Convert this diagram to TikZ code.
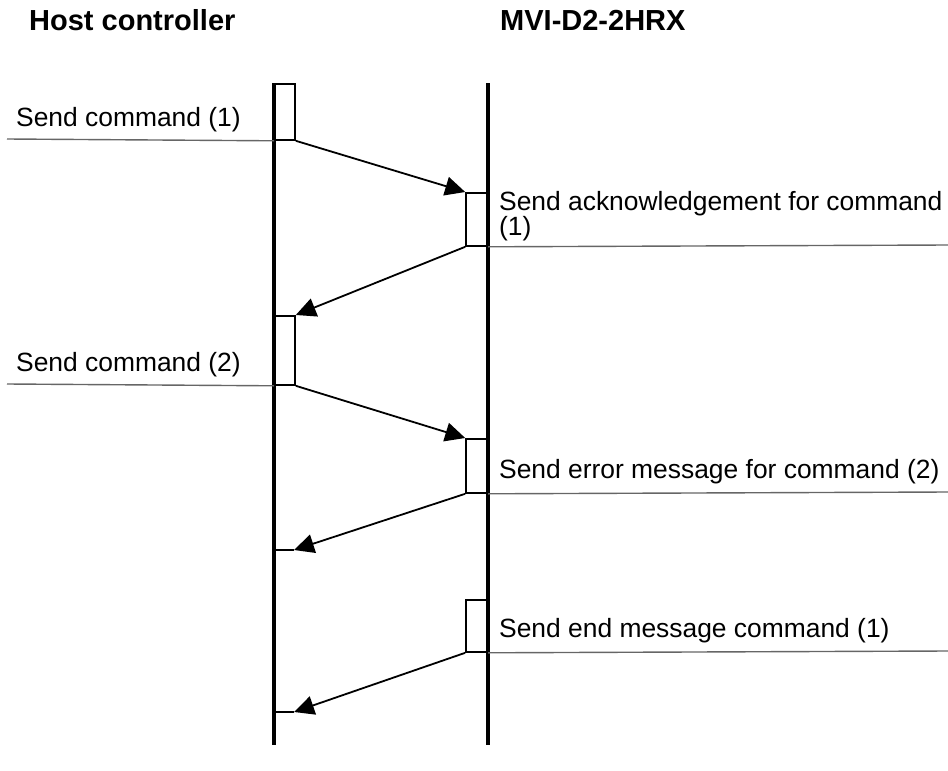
\documentclass[tikz,border=0pt]{standalone}
\usepackage{fontspec}
\setmainfont{Liberation Sans}
\usetikzlibrary{arrows.meta}
\begin{document}
\begin{tikzpicture}[x=1pt,y=-1pt,
  lifeline/.style={line width=4pt},
  actbox/.style={draw, line width=1.8pt, inner sep=0pt, minimum width=20pt},
  msg/.style={line width=1.8pt, -{Triangle[length=20pt,width=19pt]}},
  tick/.style={line width=1.8pt},
  rulel/.style={line width=1.4pt, black!60},
  lbl/.style={font=\fontsize{26.4}{25}\selectfont, inner sep=0pt, anchor=base west, align=left},
  ttl/.style={font=\fontsize{29}{32}\selectfont\bfseries, inner sep=0pt, anchor=base west}]
\useasboundingbox (0,0) rectangle (948,771);

% titles
\node[ttl] (th) at (29,30) {Host controller};
\node[ttl] (tm) at (500,30) {MVI-D2-2HRX};

% lifelines
\coordinate (hl0) at (274,83);
\coordinate (hl1) at (274,745);
\coordinate (ml0) at (488,83);
\coordinate (ml1) at (488,745);
\draw[lifeline] (hl0) -- (hl1);
\draw[lifeline] (ml0) -- (ml1);

% activation boxes
\node[actbox, anchor=north west, minimum height=56pt] (b1) at (274,83) {};
\node[actbox, anchor=north east, minimum width=21pt, minimum height=53pt] (b2) at (488,192) {};
\node[actbox, anchor=north west, minimum height=69pt] (b3) at (274,315) {};
\node[actbox, anchor=north east, minimum width=21pt, minimum height=54pt] (b4) at (488,438) {};
\node[actbox, anchor=north east, minimum width=21pt, minimum height=52pt] (b5) at (488,599) {};

% end points of the last two replies
\coordinate (e4) at (294,550);
\coordinate (l4) at (274,550);
\coordinate (e5) at (294,712);
\coordinate (l5) at (274,712);

% messages
\draw[msg] (b1.south east) -- (b2.north west);
\draw[msg] (b2.south west) -- (b3.north east);
\draw[msg] (b3.south east) -- (b4.north west);
\draw[msg] (b4.south west) -- (e4);
\draw[msg] (b5.south west) -- (e5);
\draw[tick] (l4) -- (e4);
\draw[tick] (l5) -- (e5);

% label rules
\coordinate (r1) at (7,139);
\coordinate (r3) at (7,384);
\coordinate (r2) at (948,245);
\coordinate (r4) at (948,492);
\coordinate (r5) at (948,651);
\draw[rulel] (r1) -- (b1.south west);
\draw[rulel] (r3) -- (b3.south west);
\draw[rulel] (b2.south east) -- (r2);
\draw[rulel] (b4.south east) -- (r4);
\draw[rulel] (b5.south east) -- (r5);

% labels
\node[lbl] (t1) at (16,126) {Send command (1)};
\node[lbl] (t2) at (499,235) {Send acknowledgement for command\\(1)};
\node[lbl] (t3) at (16,371) {Send command (2)};
\node[lbl] (t4) at (499,478) {Send error message for command (2)};
\node[lbl] (t5) at (499,637) {Send end message command (1)};
\end{tikzpicture}
\end{document}
